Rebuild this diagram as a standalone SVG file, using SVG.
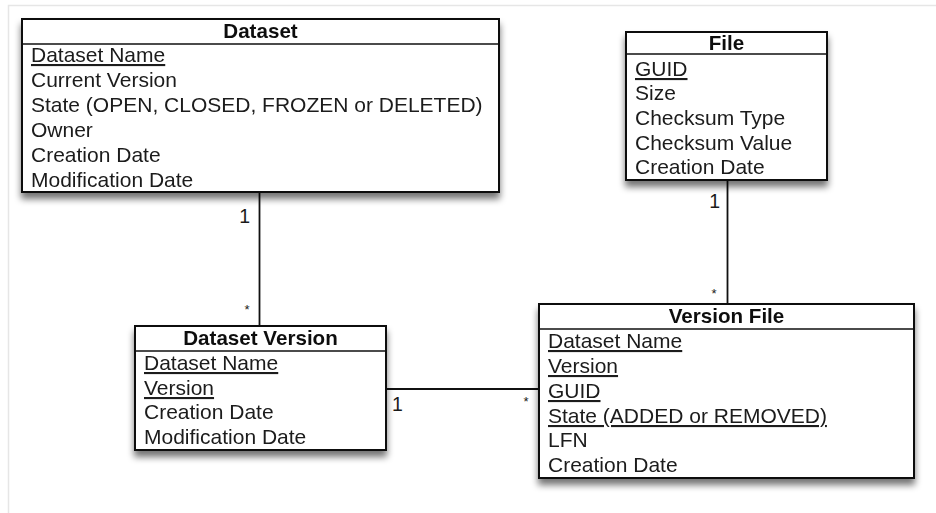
<svg xmlns="http://www.w3.org/2000/svg" width="936" height="513" viewBox="0 0 936 513">
  <defs>
    <filter id="shadow" x="-10%" y="-10%" width="120%" height="130%">
      <feGaussianBlur in="SourceAlpha" stdDeviation="3.5"/>
      <feOffset dx="0" dy="6" result="blur"/>
      <feComponentTransfer><feFuncA type="linear" slope="0.55"/></feComponentTransfer>
      <feMerge><feMergeNode/><feMergeNode in="SourceGraphic"/></feMerge>
    </filter>
  </defs>
  <style>
    .box { fill: #ffffff; stroke: #111111; stroke-width: 2; }
    .sep { stroke: #111111; stroke-width: 1.5; }
    .title { font-family: "Liberation Sans", Arial, sans-serif; font-size: 20.6px; font-weight: bold; fill: #111111; text-anchor: middle; }
    .attr { font-family: "Liberation Sans", Arial, sans-serif; font-size: 21px; fill: #1a1a1a; }
    .key { text-decoration: underline; }
    .edge { stroke: #111111; stroke-width: 1.8; fill: none; }
    .mult { font-family: "Liberation Sans", Arial, sans-serif; font-size: 19.5px; fill: #1a1a1a; }
    .star { font-family: "Liberation Sans", Arial, sans-serif; font-size: 13px; fill: #1a1a1a; }
  </style>
  <rect width="936" height="513" fill="#ffffff"/>
  <!-- page frame -->
  <path d="M8.5,513 V5.5 H936" fill="none" stroke="#e6e6e6" stroke-width="1.5"/>

  <g id="connectors">
    <line class="edge" x1="259.5" y1="192" x2="259.5" y2="326"/>
    <line class="edge" x1="727.5" y1="180" x2="727.5" y2="304"/>
    <line class="edge" x1="386" y1="389" x2="539" y2="389"/>
    <text class="mult" x="250" y="223" text-anchor="end">1</text>
    <text class="star" x="247" y="314" text-anchor="middle">*</text>
    <text class="mult" x="720" y="208" text-anchor="end">1</text>
    <text class="star" x="714" y="298" text-anchor="middle">*</text>
    <text class="mult" x="392" y="411">1</text>
    <text class="star" x="526" y="406" text-anchor="middle">*</text>
  </g>

  <g id="dataset" filter="url(#shadow)">
    <rect class="box" x="22" y="19" width="477" height="173"/>
    <line class="sep" x1="22" y1="44" x2="499" y2="44"/>
    <text class="title" x="260.5" y="38">Dataset</text>
    <text class="attr key" x="31" y="62">Dataset Name</text>
    <text class="attr" x="31" y="87">Current Version</text>
    <text class="attr" x="31" y="112">State (OPEN, CLOSED, FROZEN or DELETED)</text>
    <text class="attr" x="31" y="137">Owner</text>
    <text class="attr" x="31" y="162">Creation Date</text>
    <text class="attr" x="31" y="187">Modification Date</text>
  </g>

  <g id="file" filter="url(#shadow)">
    <rect class="box" x="626" y="32" width="201" height="148"/>
    <line class="sep" x1="626" y1="54" x2="827" y2="54"/>
    <text class="title" x="726.5" y="50">File</text>
    <text class="attr key" x="635" y="76">GUID</text>
    <text class="attr" x="635" y="100">Size</text>
    <text class="attr" x="635" y="125">Checksum Type</text>
    <text class="attr" x="635" y="150">Checksum Value</text>
    <text class="attr" x="635" y="174">Creation Date</text>
  </g>

  <g id="dataset-version" filter="url(#shadow)">
    <rect class="box" x="135" y="326" width="251" height="124"/>
    <line class="sep" x1="135" y1="351" x2="386" y2="351"/>
    <text class="title" x="260.5" y="345">Dataset Version</text>
    <text class="attr key" x="144" y="370">Dataset Name</text>
    <text class="attr key" x="144" y="395">Version</text>
    <text class="attr" x="144" y="419">Creation Date</text>
    <text class="attr" x="144" y="444">Modification Date</text>
  </g>

  <g id="version-file" filter="url(#shadow)">
    <rect class="box" x="539" y="304" width="375" height="174"/>
    <line class="sep" x1="539" y1="329" x2="914" y2="329"/>
    <text class="title" x="726.5" y="323">Version File</text>
    <text class="attr key" x="548" y="348">Dataset Name</text>
    <text class="attr key" x="548" y="373">Version</text>
    <text class="attr key" x="548" y="398">GUID</text>
    <text class="attr key" x="548" y="423">State (ADDED or REMOVED)</text>
    <text class="attr" x="548" y="447">LFN</text>
    <text class="attr" x="548" y="472">Creation Date</text>
  </g>
</svg>
